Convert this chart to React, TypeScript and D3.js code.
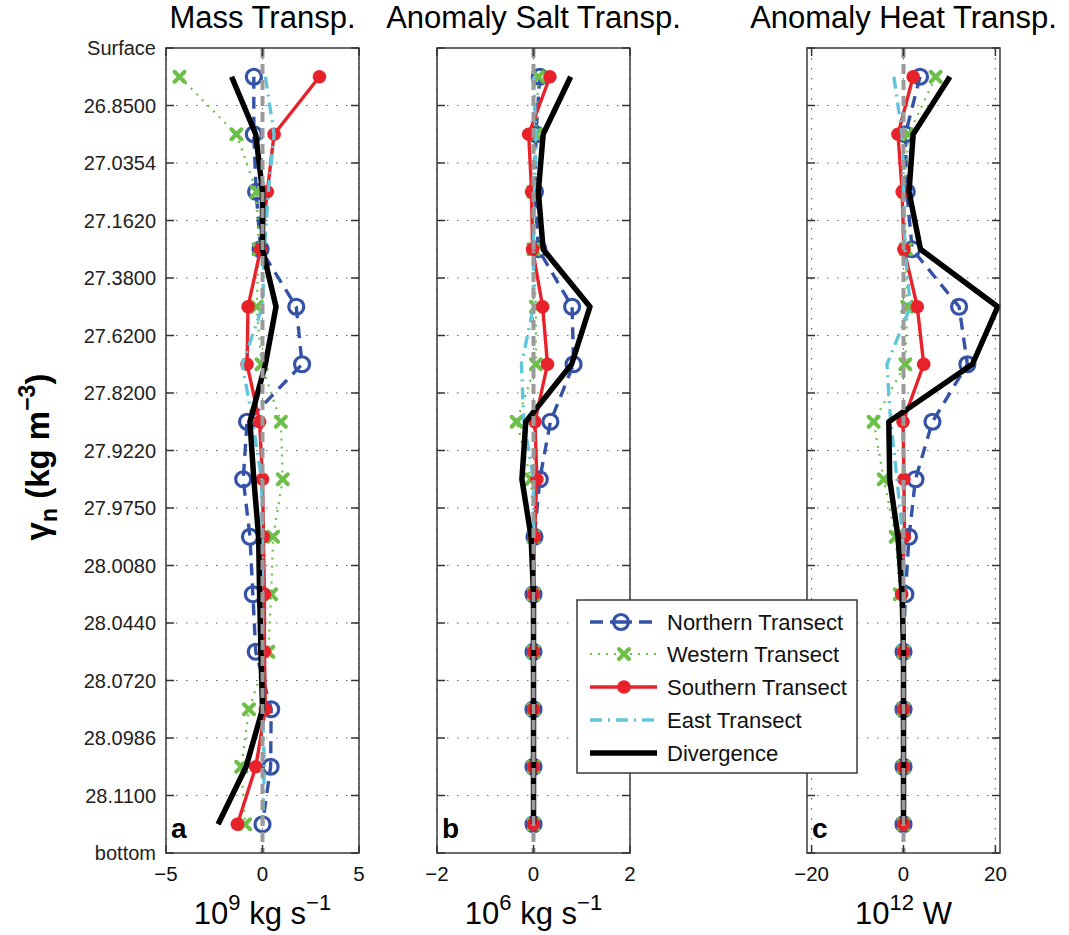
import React from "react";
import * as d3 from "d3";

// ---------- data ----------
const layerTicks = [
  "Surface", "26.8500", "27.0354", "27.1620", "27.3800", "27.6200", "27.8200",
  "27.9220", "27.9750", "28.0080", "28.0440", "28.0720", "28.0986", "28.1100", "bottom",
];

const seriesNames = ["Northern Transect", "Western Transect", "Southern Transect", "East Transect", "Divergence"];

// Mass transport (10^9 kg s^-1)
const massNorthern = [-0.45, -0.45, -0.33, -0.1, 1.75, 2.05, -0.8, -1.0, -0.65, -0.5, -0.35, 0.45, 0.42, 0.0];
const massWestern = [-4.3, -1.35, -0.3, -0.2, -0.3, -0.05, 0.95, 1.05, 0.55, 0.45, 0.3, -0.7, -1.1, -0.9];
const massSouthern = [2.95, 0.6, 0.25, -0.1, -0.75, -0.8, -0.15, 0.0, 0.05, 0.1, 0.1, 0.15, -0.35, -1.3];
const massEast = [0.15, 0.6, 0.3, 0.1, 0.0, -1.05, -0.5, -0.05, 0.0, 0.0, 0.0, 0.0, 0.1, 0.0];
const massDivergence = [-1.6, -0.35, 0.0, 0.0, 0.7, 0.15, -0.65, -0.45, -0.2, -0.15, -0.08, 0.0, -0.85, -2.3];

// Anomaly salt transport (10^6 kg s^-1)
const saltNorthern = [0.13, 0.05, 0.03, 0.1, 0.8, 0.83, 0.35, 0.13, 0.02, 0.0, 0.0, 0.0, 0.0, 0.0];
const saltWestern = [0.1, 0.05, 0.0, 0.0, 0.05, 0.05, -0.35, -0.05, 0.0, 0.0, 0.0, 0.0, 0.0, 0.0];
const saltSouthern = [0.34, -0.1, -0.04, -0.02, 0.19, 0.29, 0.03, 0.07, 0.02, 0.0, 0.0, 0.0, 0.0, 0.0];
const saltEast = [0.0, 0.05, 0.02, 0.0, 0.0, -0.25, -0.2, 0.0, 0.0, 0.0, 0.0, 0.0, 0.0, 0.0];
const saltDivergence = [0.77, 0.2, 0.1, 0.2, 1.17, 0.79, -0.16, -0.24, -0.05, 0.0, 0.0, 0.0, 0.0, 0.0];

// Anomaly heat transport (10^12 W)
const heatNorthern = [3.6, 0.4, 0.7, 1.9, 12.1, 13.9, 6.3, 2.6, 1.2, 0.4, 0.0, 0.0, 0.0, 0.0];
const heatWestern = [7.0, 1.1, 0.3, 0.5, 0.8, 0.4, -6.5, -4.3, -1.7, -0.8, 0.0, 0.0, 0.0, 0.0];
const heatSouthern = [2.1, -1.2, -0.3, 0.1, 3.0, 4.4, -0.1, 0.1, 0.2, -0.4, 0.0, 0.0, 0.0, 0.0];
const heatEast = [-2.1, -0.3, 0.0, 0.3, 1.5, -3.6, -2.8, -1.4, -0.2, 0.0, 0.0, 0.0, 0.0, 0.0];
const heatDivergence = [10.1, 2.1, 1.2, 3.7, 20.5, 15.0, -3.2, -3.0, -1.2, -0.3, 0.0, 0.0, 0.0, 0.0];

const panelTitles = ["Mass Transp.", "Anomaly Salt Transp.", "Anomaly Heat Transp."];
const panelLetters = ["a", "b", "c"];
const massTicks = [-5, 0, 5];
const saltTicks = [-2, 0, 2];
const heatTicks = [-20, 0, 20];
const massDomain: [number, number] = [-5, 5];
const saltDomain: [number, number] = [-2, 2];
const heatDomain: [number, number] = [-21, 21];
const unitBase = ["10", "10", "10"];
const unitExp = ["9", "6", "12"];
const unitRest = [" kg s", " kg s", " W"];
const unitRestExp = ["\u22121", "\u22121", ""];

// ---------- layout / styles ----------
const W = 1069;
const H = 935;
const TOP = 48;
const BOTTOM = 853;
const FONT = "'Liberation Sans', Arial, Helvetica, sans-serif";
const panelLefts = [166, 437, 807];
const panelWidth = 193;

const styles = [
  { color: "#3553a6", width: 3.4, dash: "12 8", marker: "openCircle" },
  { color: "#6cbf47", width: 2.2, dash: "2 6", marker: "cross" },
  { color: "#e8222a", width: 3.4, dash: null, marker: "dot" },
  { color: "#62c6da", width: 3.4, dash: "12 6 2 6", marker: null },
  { color: "#000000", width: 5.5, dash: null, marker: null },
];

const y = d3.scaleLinear().domain([0, layerTicks.length - 1]).range([TOP, BOTTOM]);

function Marker({ kind, cx, cy, color }: { kind: string | null; cx: number; cy: number; color: string }) {
  if (kind === "openCircle")
    return <circle cx={cx} cy={cy} r={7.5} fill="none" stroke={color} strokeWidth={3.2} />;
  if (kind === "dot") return <circle cx={cx} cy={cy} r={6.8} fill={color} />;
  if (kind === "cross")
    return (
      <g stroke={color} strokeWidth={4} strokeLinecap="round">
        <line x1={cx - 5} y1={cy - 5} x2={cx + 5} y2={cy + 5} />
        <line x1={cx - 5} y1={cy + 5} x2={cx + 5} y2={cy - 5} />
      </g>
    );
  return null;
}

function Panel({ idx, domain, ticks, series }: { idx: number; domain: [number, number]; ticks: number[]; series: number[][] }) {
  const left = panelLefts[idx];
  const right = left + panelWidth;
  const x = d3.scaleLinear().domain(domain).range([left, right]);
  const line = d3
    .line<number>()
    .x((v) => x(v))
    .y((_, i) => y(i + 0.5));
  const cx = (left + right) / 2;
  return (
    <g>
      {/* grid */}
      {layerTicks.map((_, i) =>
        i > 0 && i < layerTicks.length - 1 ? (
          <line key={"gh" + i} x1={left} x2={right} y1={y(i)} y2={y(i)} stroke="#666" strokeWidth={1.2} strokeDasharray="1.5 8.5" />
        ) : null
      )}
      {ticks.map((t) => (
        <line key={"gv" + t} x1={x(t)} x2={x(t)} y1={TOP} y2={BOTTOM} stroke="#666" strokeWidth={1.2} strokeDasharray="1.5 8.5" />
      ))}
      {/* series */}
      {series.map((vals, s) => {
        const st = styles[s];
        return (
          <g key={"s" + s}>
            <path
              d={line(vals) || ""}
              fill="none"
              stroke={st.color}
              strokeWidth={st.width}
              strokeDasharray={st.dash || undefined}
              strokeLinejoin="round"
            />
            {vals.map((v, i) => (
              <Marker key={i} kind={st.marker} cx={x(v)} cy={y(i + 0.5)} color={st.color} />
            ))}
          </g>
        );
      })}
      {/* zero line */}
      <line x1={x(0)} x2={x(0)} y1={TOP} y2={BOTTOM} stroke="#9a9a9a" strokeWidth={4} strokeDasharray="10 6" />
      {/* frame */}
      <rect x={left} y={TOP} width={panelWidth} height={BOTTOM - TOP} fill="none" stroke="#3a3a3a" strokeWidth={1.5} />
      {/* y ticks */}
      {layerTicks.map((_, i) => (
        <g key={"yt" + i} stroke="#333" strokeWidth={1.5}>
          <line x1={left} x2={left + 8} y1={y(i)} y2={y(i)} />
          <line x1={right - 8} x2={right} y1={y(i)} y2={y(i)} />
        </g>
      ))}
      {/* x ticks */}
      {ticks.map((t) => (
        <g key={"xt" + t} stroke="#333" strokeWidth={1.5}>
          <line x1={x(t)} x2={x(t)} y1={BOTTOM} y2={BOTTOM - 8} />
          <line x1={x(t)} x2={x(t)} y1={TOP} y2={TOP + 8} />
        </g>
      ))}
      {ticks.map((t) => (
        <text key={"xl" + t} x={x(t)} y={881} textAnchor="middle" fontSize={20.5} fill="#111" fontFamily={FONT}>
          {t < 0 ? "\u2212" + Math.abs(t) : String(t)}
        </text>
      ))}
      {idx === 0 &&
        layerTicks.map((lab, i) => (
          <text key={"yl" + i} x={156} y={y(i) + 7} textAnchor="end" fontSize={20} fill="#222" fontFamily={FONT}>
            {lab}
          </text>
        ))}
      {/* title */}
      <text x={cx} y={28} textAnchor="middle" fontSize={31} fill="#000" fontFamily={FONT}>
        {panelTitles[idx]}
      </text>
      {/* unit label */}
      <text x={cx} y={924} textAnchor="middle" fontSize={31} fill="#000" fontFamily={FONT}>
        {unitBase[idx]}
        <tspan fontSize={22} dy={-14}>{unitExp[idx]}</tspan>
        <tspan dy={14}>{unitRest[idx]}</tspan>
        {unitRestExp[idx] ? <tspan fontSize={22} dy={-14}>{unitRestExp[idx]}</tspan> : null}
      </text>
      {/* panel letter */}
      <text x={left + 5} y={838} fontSize={28} fontWeight="bold" fill="#000" fontFamily={FONT}>
        {panelLetters[idx]}
      </text>
    </g>
  );
}

function Legend() {
  const lx = 577;
  const ly = 600;
  const rowY = [622, 654, 687, 720, 753];
  return (
    <g>
      <rect x={lx} y={ly} width={280} height={173} fill="#fff" stroke="#3a3a3a" strokeWidth={1.5} />
      {seriesNames.map((name, s) => {
        const st = styles[s];
        const yy = rowY[s];
        const dash = s === 0 ? "13 7 22 7 13" : st.dash || undefined;
        return (
          <g key={name}>
            <line x1={590} x2={657} y1={yy} y2={yy} stroke={st.color} strokeWidth={st.width} strokeDasharray={dash} />
            <Marker kind={st.marker} cx={s === 0 ? 621 : 624} cy={yy} color={st.color} />
            <text x={667} y={yy + 7.5} fontSize={22} fill="#111" fontFamily={FONT}>
              {name}
            </text>
          </g>
        );
      })}
    </g>
  );
}

export default function App() {
  const massSeries = [massNorthern, massWestern, massSouthern, massEast, massDivergence];
  const saltSeries = [saltNorthern, saltWestern, saltSouthern, saltEast, saltDivergence];
  const heatSeries = [heatNorthern, heatWestern, heatSouthern, heatEast, heatDivergence];
  return (
    <svg
      width={W}
      height={H}
      viewBox={`0 0 ${W} ${H}`}
      style={{ position: "absolute", left: 0, top: 0, background: "#fff" }}
    >
      <rect x={0} y={0} width={W} height={H} fill="#fff" />
      <Panel idx={0} domain={massDomain} ticks={massTicks} series={massSeries} />
      <Panel idx={1} domain={saltDomain} ticks={saltTicks} series={saltSeries} />
      <Panel idx={2} domain={heatDomain} ticks={heatTicks} series={heatSeries} />
      <Legend />
      <text
        transform="translate(49,457) rotate(-90)"
        textAnchor="middle"
        fontSize={33}
        fontWeight="bold"
        fill="#000"
        fontFamily={FONT}
      >
        {"\u03b3"}
        <tspan fontSize={23} dy={8}>n</tspan>
        <tspan dy={-8}>{" (kg m"}</tspan>
        <tspan fontSize={23} dy={-14}>{"\u22123"}</tspan>
        <tspan dy={14}>)</tspan>
      </text>
    </svg>
  );
}
